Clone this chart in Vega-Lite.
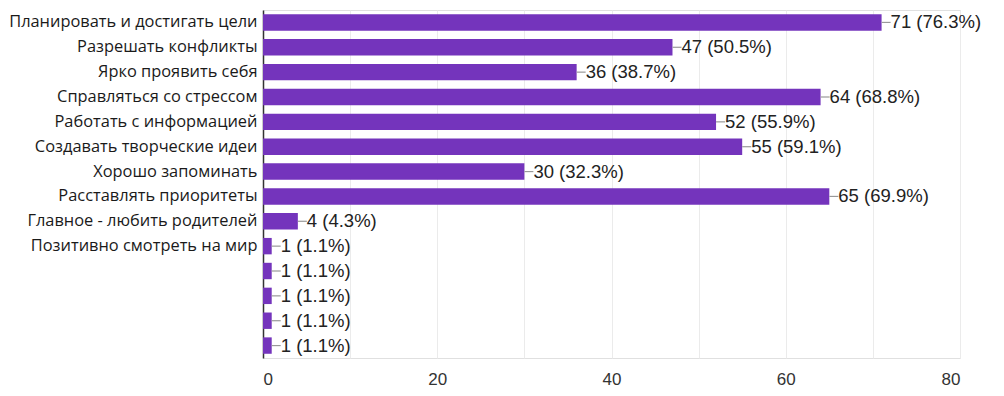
{
  "$schema": "https://vega.github.io/schema/vega-lite/v6.json",
  "autosize": {"type": "none"},
  "width": 697,
  "height": 348,
  "padding": {"left": 263, "top": 10, "right": 44, "bottom": 38},
  "background": "white",
  "config": {
    "view": {"stroke": "#e0e0e0", "strokeWidth": 1},
    "font": "Liberation Sans"
  },
  "data": {
    "values": [
      {"label": "Планировать и достигать цели", "value": 71, "lbl": "71 (76.3%)"},
      {"label": "Разрешать конфликты", "value": 47, "lbl": "47 (50.5%)"},
      {"label": "Ярко проявить себя", "value": 36, "lbl": "36 (38.7%)"},
      {"label": "Справляться со стрессом", "value": 64, "lbl": "64 (68.8%)"},
      {"label": "Работать с информацией", "value": 52, "lbl": "52 (55.9%)"},
      {"label": "Создавать творческие идеи", "value": 55, "lbl": "55 (59.1%)"},
      {"label": "Хорошо запоминать", "value": 30, "lbl": "30 (32.3%)"},
      {"label": "Расставлять приоритеты", "value": 65, "lbl": "65 (69.9%)"},
      {"label": "Главное - любить родителей", "value": 4, "lbl": "4 (4.3%)"},
      {"label": "Позитивно смотреть на мир", "value": 1, "lbl": "1 (1.1%)"},
      {"label": " ", "value": 1, "lbl": "1 (1.1%)"},
      {"label": "  ", "value": 1, "lbl": "1 (1.1%)"},
      {"label": "   ", "value": 1, "lbl": "1 (1.1%)"},
      {"label": "    ", "value": 1, "lbl": "1 (1.1%)"}
    ]
  },
  "encoding": {
    "y": {
      "field": "label",
      "type": "nominal",
      "sort": null,
      "scale": {"paddingInner": 0.34, "paddingOuter": 0.17},
      "axis": {
        "title": null,
        "ticks": false,
        "domain": true,
        "domainColor": "#333333",
        "domainWidth": 1.5,
        "labelFont": "Open Sans",
        "labelFontSize": 16.4,
        "labelColor": "#1a1a1a",
        "labelPadding": 6,
        "labelLimit": 300
      }
    }
  },
  "layer": [
    {
      "mark": {"type": "bar", "color": "#7434bc"},
      "encoding": {
        "x": {
          "field": "value",
          "type": "quantitative",
          "scale": {"domain": [0, 80], "nice": false},
          "axis": {
            "title": null,
            "values": [0, 10, 20, 30, 40, 50, 60, 70, 80],
            "labelExpr": "datum.value % 20 == 0 ? datum.label : ''",
            "ticks": false,
            "domain": false,
            "grid": true,
            "gridColor": "#ebebeb",
            "labelFontSize": 17,
            "labelColor": "#333333",
            "labelPadding": 13,
            "labelFont": "Liberation Sans"
          }
        }
      }
    },
    {
      "mark": {"type": "rule", "color": "#999999", "strokeWidth": 1.2, "x2Offset": 9},
      "encoding": {
        "x": {"field": "value", "type": "quantitative"},
        "x2": {"field": "value"}
      }
    },
    {
      "mark": {"type": "text", "align": "left", "baseline": "middle", "dx": 9, "fontSize": 18.5, "color": "#222222", "font": "Liberation Sans"},
      "encoding": {
        "x": {"field": "value", "type": "quantitative"},
        "text": {"field": "lbl"}
      }
    }
  ]
}
